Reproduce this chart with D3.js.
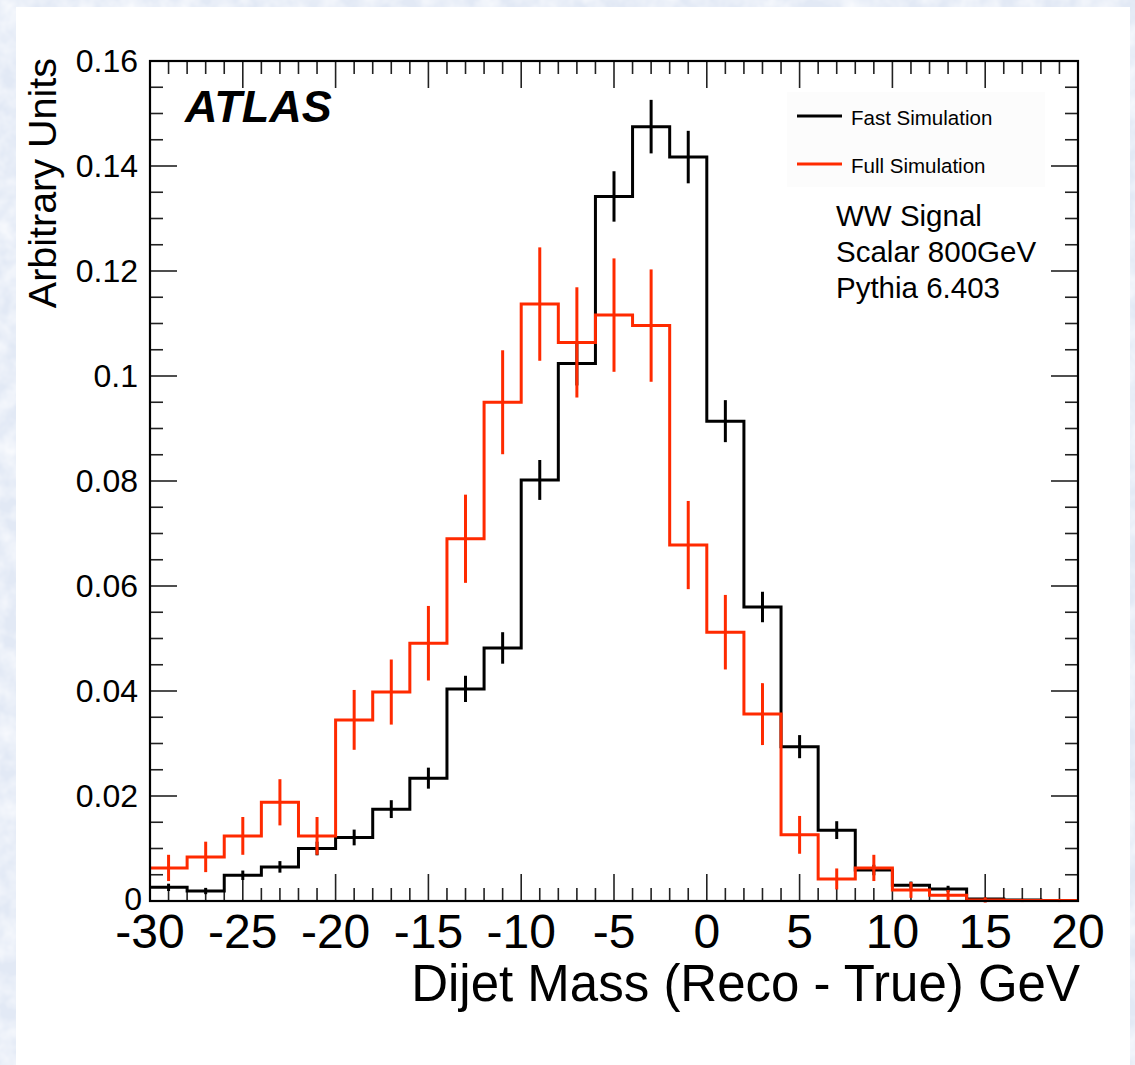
<!DOCTYPE html>
<html>
<head>
<meta charset="utf-8">
<script src="https://cdn.jsdelivr.net/npm/d3@7"></script>
<style>
body { margin: 0; background: #e6edf8; }
svg { display: block; font-family: "Liberation Sans", Arial, Helvetica, sans-serif; }
</style>
</head>
<body>
<script>
(function(){

//bin edges of the histograms (GeV)
var binEdges = [-30, -28, -26, -24, -22, -20, -18, -16, -14, -12, -10, -8, -6, -4, -2, 0, 2, 4, 6, 8, 10, 12, 14, 16, 18, 20];

//fast simulation contents and errors
var fastValues = [0.0026, 0.0019, 0.0049, 0.0065, 0.0100, 0.0121, 0.0175, 0.0234, 0.0404, 0.0482, 0.0802, 0.1024, 0.1342, 0.1475, 0.1417, 0.0914, 0.0560, 0.0294, 0.0135, 0.0059, 0.0030, 0.0023, 0.0004, 0.0002, 0.0001];
var fastErrors = [0.0007, 0.0006, 0.0009, 0.0011, 0.0013, 0.0015, 0.0017, 0.0020, 0.0025, 0.0030, 0.0038, 0.0042, 0.0048, 0.0051, 0.0050, 0.0040, 0.0029, 0.0022, 0.0017, 0.0010, 0.0007, 0.0006, 0.0002, 0.0001, 0.0001];

//full simulation contents and errors
var fullValues = [0.0063, 0.0084, 0.0124, 0.0188, 0.0124, 0.0345, 0.0398, 0.0491, 0.0690, 0.0950, 0.1137, 0.1064, 0.1116, 0.1096, 0.0678, 0.0512, 0.0356, 0.0126, 0.0042, 0.0063, 0.0021, 0.0011, 0.0002, 0.0001, 0.0001];
var fullErrors = [0.0025, 0.0029, 0.0036, 0.0044, 0.0036, 0.0057, 0.0062, 0.0071, 0.0084, 0.0099, 0.0108, 0.0105, 0.0108, 0.0107, 0.0084, 0.0071, 0.0059, 0.0036, 0.0020, 0.0025, 0.0015, 0.0010, 0.0005, 0.0003, 0.0003];

//tick labels
var xTickValues = [-30, -25, -20, -15, -10, -5, 0, 5, 10, 15, 20];
var yTickValues = [0, 0.02, 0.04, 0.06, 0.08, 0.1, 0.12, 0.14, 0.16];
var yTickLabels = ["0", "0.02", "0.04", "0.06", "0.08", "0.1", "0.12", "0.14", "0.16"];

//legend and info texts
var seriesNames = ["Fast Simulation", "Full Simulation"];
var seriesColors = ["#000000", "#ff2a00"];
var infoLines = ["WW Signal", "Scalar 800GeV", "Pythia 6.403"];

//page and frame dimensions
var width = 1135,
    height = 1065,
    frameLeft = 150,
    frameRight = 1078,
    frameTop = 61,
    frameBottom = 901;

var svg = d3.select("body")
    .append("svg")
    .attr("width", width)
    .attr("height", height);

//mottled paper background
var defs = svg.append("defs");
var filter = defs.append("filter").attr("id", "paper");
filter.append("feTurbulence")
    .attr("type", "fractalNoise")
    .attr("baseFrequency", 0.05)
    .attr("numOctaves", 3)
    .attr("seed", 4);
filter.append("feColorMatrix")
    .attr("type", "matrix")
    .attr("values", "0 0 0 0 0.97  0 0 0 0 0.98  0 0 0 0 1  0 0 0 -1.4 1.0");

svg.append("rect")
    .attr("width", width)
    .attr("height", height)
    .attr("fill", "#e2e9f5");
svg.append("rect")
    .attr("width", width)
    .attr("height", height)
    .attr("filter", "url(#paper)");

//white canvas
svg.append("rect")
    .attr("x", 16)
    .attr("y", 7)
    .attr("width", 1114)
    .attr("height", height - 7)
    .attr("fill", "#ffffff");

//scales
var x = d3.scaleLinear()
    .domain([-30, 20])
    .range([frameLeft, frameRight]);

var y = d3.scaleLinear()
    .domain([0, 0.16])
    .range([frameBottom, frameTop]);

//ticks: major and minor on all four sides
var xMinor = d3.range(-30, 20.001, 1),
    yMinor = d3.range(0, 0.16001, 0.005);

var tickG = svg.append("g")
    .attr("stroke", "#222")
    .attr("stroke-width", 1.6);

xMinor.forEach(function(v){
    var major = Math.abs(v % 5) < 1e-6;
    var len = major ? 27 : 13;
    tickG.append("line")
        .attr("x1", x(v)).attr("x2", x(v))
        .attr("y1", frameBottom).attr("y2", frameBottom - len);
    tickG.append("line")
        .attr("x1", x(v)).attr("x2", x(v))
        .attr("y1", frameTop).attr("y2", frameTop + len);
});

yMinor.forEach(function(v, i){
    var major = i % 4 === 0;
    var len = major ? 27 : 13;
    tickG.append("line")
        .attr("x1", frameLeft).attr("x2", frameLeft + len)
        .attr("y1", y(v)).attr("y2", y(v));
    tickG.append("line")
        .attr("x1", frameRight).attr("x2", frameRight - len)
        .attr("y1", y(v)).attr("y2", y(v));
});

//histogram step lines
function drawHist(values, errors, color){
    var pts = values.map(function(v, i){ return [binEdges[i], v]; });
    pts.push([binEdges[binEdges.length - 1], values[values.length - 1]]);

    var line = d3.line()
        .x(function(d){ return x(d[0]); })
        .y(function(d){ return y(d[1]); })
        .curve(d3.curveStepAfter);

    svg.append("path")
        .datum(pts)
        .attr("d", line)
        .attr("fill", "none")
        .attr("stroke", color)
        .attr("stroke-width", 3);

    //vertical error bars at bin centres
    svg.append("g").selectAll("line")
        .data(values)
        .enter()
        .append("line")
        .attr("x1", function(d, i){ return x((binEdges[i] + binEdges[i + 1]) / 2); })
        .attr("x2", function(d, i){ return x((binEdges[i] + binEdges[i + 1]) / 2); })
        .attr("y1", function(d, i){ return y(d - errors[i]); })
        .attr("y2", function(d, i){ return y(d + errors[i]); })
        .attr("stroke", color)
        .attr("stroke-width", 3);
}

drawHist(fastValues, fastErrors, seriesColors[0]);
drawHist(fullValues, fullErrors, seriesColors[1]);

//frame
svg.append("rect")
    .attr("x", frameLeft)
    .attr("y", frameTop)
    .attr("width", frameRight - frameLeft)
    .attr("height", frameBottom - frameTop)
    .attr("fill", "none")
    .attr("stroke", "#000")
    .attr("stroke-width", 2.2);

//x tick labels
svg.selectAll(".xlabel")
    .data(xTickValues)
    .enter()
    .append("text")
    .attr("class", "xlabel")
    .attr("x", function(d){ return x(d); })
    .attr("y", 948)
    .attr("text-anchor", "middle")
    .attr("font-size", 48)
    .text(function(d){ return d; });

//y tick labels
svg.selectAll(".ylabel")
    .data(yTickValues)
    .enter()
    .append("text")
    .attr("class", "ylabel")
    .attr("x", function(d, i){ return i === 0 ? 142 : 138; })
    .attr("y", function(d, i){ return y(d) + (i === 0 ? 9 : 11); })
    .attr("text-anchor", "end")
    .attr("font-size", 32)
    .text(function(d, i){ return yTickLabels[i]; });

//axis titles
svg.append("text")
    .attr("x", frameRight + 2)
    .attr("y", 1001)
    .attr("text-anchor", "end")
    .attr("font-size", 51)
    .text("Dijet Mass (Reco - True) GeV");

svg.append("text")
    .attr("transform", "translate(56,58) rotate(-90)")
    .attr("text-anchor", "end")
    .attr("font-size", 39.5)
    .text("Arbitrary Units");

//ATLAS label
svg.append("text")
    .attr("x", 185)
    .attr("y", 122)
    .attr("font-size", 45)
    .attr("font-weight", "bold")
    .attr("font-style", "italic")
    .text("ATLAS");

//legend
var legend = svg.append("g");
legend.append("rect")
    .attr("x", 787)
    .attr("y", 92)
    .attr("width", 258)
    .attr("height", 95)
    .attr("fill", "#fcfcfc");

seriesNames.forEach(function(name, i){
    var ly = 116 + i * 48;
    legend.append("line")
        .attr("x1", 797).attr("x2", 842)
        .attr("y1", ly).attr("y2", ly)
        .attr("stroke", seriesColors[i])
        .attr("stroke-width", 3);
    legend.append("text")
        .attr("x", 851)
        .attr("y", ly + 9)
        .attr("font-size", 20.5)
        .text(name);
});

//info text
svg.selectAll(".info")
    .data(infoLines)
    .enter()
    .append("text")
    .attr("class", "info")
    .attr("x", 836)
    .attr("y", function(d, i){ return 226 + i * 36; })
    .attr("font-size", 29.5)
    .text(function(d){ return d; });

})();
</script>
</body>
</html>
